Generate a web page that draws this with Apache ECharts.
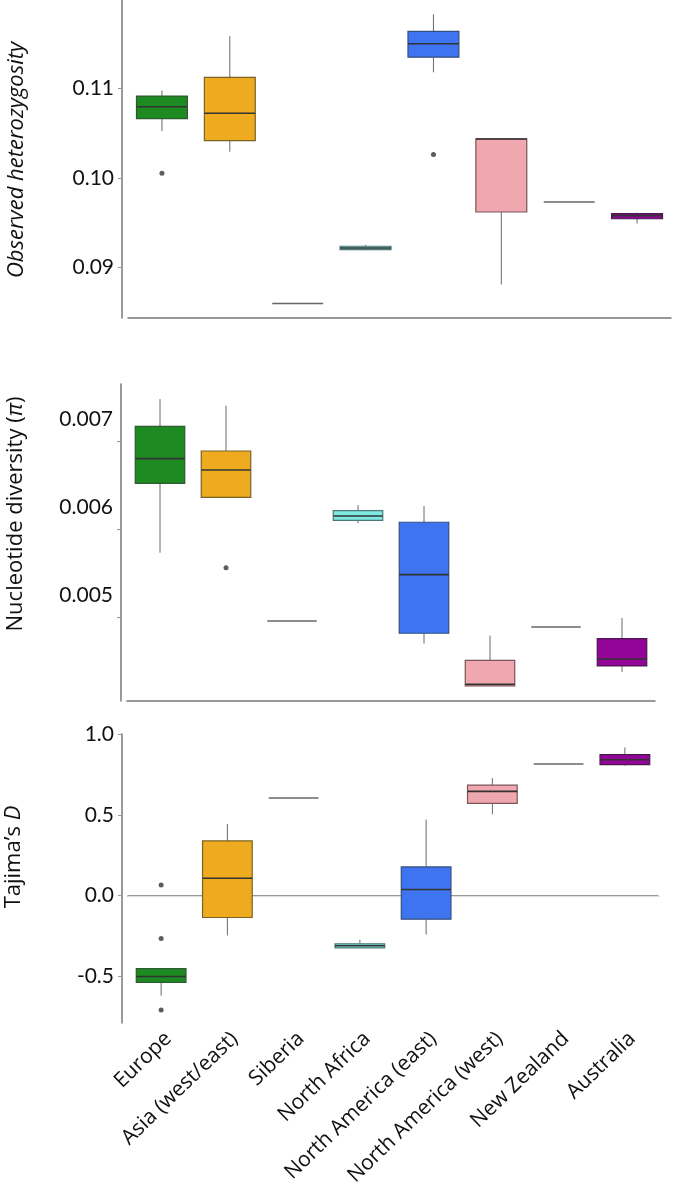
<!DOCTYPE html>
<html><head><meta charset="utf-8">
<script src="https://cdn.jsdelivr.net/npm/echarts@6/dist/echarts.min.js"></script>
<style>html,body{margin:0;padding:0;background:#fff}#c{width:677px;height:1189px}</style>
</head><body><div id="c"></div>
<script>
// ---------- DATA ----------
const categories = ['Europe','Asia (west/east)','Siberia','North Africa','North America (east)','North America (west)','New Zealand','Australia'];
// [min, Q1, median, Q3, max]
const hetBoxes = [
  [0.10519,0.10660,0.10791,0.10910,0.10970],
  [0.10291,0.10414,0.10720,0.11119,0.11578],
  [0.08601,0.08601,0.08601,0.08601,0.08601],
  [0.09194,0.09201,0.09220,0.09239,0.09254],
  [0.11175,0.11343,0.11493,0.11631,0.11821],
  [0.08813,0.09620,0.10433,0.10433,0.10433],
  [0.09731,0.09731,0.09731,0.09731,0.09731],
  [0.09493,0.09545,0.09580,0.09601,0.09612]
];
const hetOutliers = [[0,0.10052],[4,0.10261]];
const hetTicks = [0.09,0.10,0.11];

const piBoxes = [
  [0.005733,0.006520,0.006800,0.007166,0.007476],
  [0.006361,0.006361,0.006671,0.006887,0.007400],
  [0.004958,0.004958,0.004958,0.004958,0.004958],
  [0.006066,0.006100,0.006150,0.006210,0.006274],
  [0.004701,0.004819,0.005484,0.006078,0.006263],
  [0.004221,0.004221,0.004240,0.004512,0.004792],
  [0.004890,0.004890,0.004890,0.004890,0.004890],
  [0.004380,0.004448,0.004527,0.004758,0.004992]
];
const piOutliers = [[1,0.005563]];
const piTicks = [0.005,0.006,0.007];

const tajBoxes = [
  [-0.620,-0.538,-0.501,-0.453,-0.453],
  [-0.247,-0.136,0.107,0.338,0.443],
  [0.604,0.604,0.604,0.604,0.604],
  [-0.324,-0.324,-0.311,-0.299,-0.274],
  [-0.241,-0.146,0.037,0.177,0.470],
  [0.503,0.571,0.645,0.684,0.727],
  [0.814,0.814,0.814,0.814,0.814],
  [0.804,0.810,0.841,0.872,0.917]
];
const tajOutliers = [[0,0.066],[0,-0.266],[0,-0.709]];
const tajTicks = [-0.5,0.0,0.5,1.0];
const tajRefLine = [0];

// ---------- STYLE ----------
const fills = ['#1e8a22','#eeab1f','transparent','#7ee8e3','#3f74f0','#f0a8b0','transparent','#920598'];
const strokes = ['#2f5a2f','#7a6226','#666666','#4d7a78','#34507f','#7a5559','#666666','#4a1a4d'];
const SANS = "'Open Sans','Noto Sans',sans-serif";

const chart = echarts.init(document.getElementById('c'), null, {renderer:'canvas'});

function boxSeries(boxes, axisIdx) {
  return {
    type: 'custom',
    xAxisIndex: axisIdx, yAxisIndex: axisIdx,
    z: 3,
    data: boxes.map((b,i)=>[i].concat(b)),
    encode: {x: 0, y: [1,2,3,4,5]},
    renderItem: function(params, api) {
      const i = api.value(0);
      const band = api.size([1,0])[0];
      const w = band*0.75;
      const pMin = api.coord([i, api.value(1)]);
      const pQ1 = api.coord([i, api.value(2)]);
      const pMed = api.coord([i, api.value(3)]);
      const pQ3 = api.coord([i, api.value(4)]);
      const pMax = api.coord([i, api.value(5)]);
      const cx = pMed[0];
      const children = [];
      children.push({type:'line', shape:{x1:cx,y1:pMax[1],x2:cx,y2:pQ3[1]}, style:{stroke:'#6a6a6a',lineWidth:1}});
      children.push({type:'line', shape:{x1:cx,y1:pQ1[1],x2:cx,y2:pMin[1]}, style:{stroke:'#6a6a6a',lineWidth:1}});
      const flat = Math.abs(pQ1[1]-pQ3[1]) < 0.5;
      if (flat) {
        children.push({type:'line', shape:{x1:cx-w/2,y1:pMed[1],x2:cx+w/2,y2:pMed[1]}, style:{stroke:strokes[i],lineWidth:1.6}});
      } else {
        children.push({type:'rect', shape:{x:cx-w/2,y:pQ3[1],width:w,height:pQ1[1]-pQ3[1]}, style:{fill:fills[i],stroke:strokes[i],lineWidth:1.2}});
        children.push({type:'line', shape:{x1:cx-w/2,y1:pMed[1],x2:cx+w/2,y2:pMed[1]}, style:{stroke:'#333333',lineWidth:1.6}});
      }
      return {type:'group', children: children};
    }
  };
}
function refLineSeries(vals, axisIdx) {
  return {
    type: 'custom', xAxisIndex: axisIdx, yAxisIndex: axisIdx, z: 1, silent: true,
    data: vals.map(v=>[0, v]),
    encode: {y: 1},
    renderItem: function(params, api) {
      const p = api.coord([0, api.value(1)]);
      const y = Math.round(p[1]) + 0.5;
      return {type:'line', shape:{x1:params.coordSys.x, y1:y, x2:params.coordSys.x+params.coordSys.width, y2:y}, style:{stroke:'#dedede', lineWidth:1}};
    }
  };
}
function outlierSeries(pts, axisIdx) {
  return {
    type:'scatter', xAxisIndex:axisIdx, yAxisIndex:axisIdx, z:4,
    symbolSize:5, itemStyle:{color:'#333'}, data: pts
  };
}
function xAx(gi, showLabels) {
  return {
    type:'category', gridIndex:gi, data:categories, boundaryGap:true,
    axisLine:{lineStyle:{color:'#777',width:1.5}},
    axisTick:{alignWithLabel:true, length:5, lineStyle:{color:'#999'}},
    axisLabel: showLabels ? {rotate:44, margin:5, verticalAlign:'top', fontFamily:SANS, fontSize:21, color:'#111', interval:0} : {show:false},
    splitLine:{show:false}
  };
}
function yAx(gi, min, max, ticks, digits, labelExtra) {
  return {
    type:'value', gridIndex:gi, min:min, max:max, offset:6,
    axisLine:{show:true, lineStyle:{color:'#777',width:1.5}},
    axisTick:{show:true, length:4, lineStyle:{color:'#999'}, customValues:ticks},
    axisLabel:Object.assign({customValues:ticks, formatter:v=>v.toFixed(digits), fontFamily:'Lato', fontSize:21, color:'#111', margin:8}, labelExtra||{}),
    splitLine:{show:false}
  };
}

const titleFont = {fontFamily:SANS, fontSize:22, fill:'#111'};
const italicRich = {i:{fontStyle:'italic', fontFamily:SANS, fontSize:22, fill:'#111'}};
chart.setOption({
  animation:false,
  backgroundColor:'#fff',
  grid:[
    {left:128, top:0, width:543, height:318},
    {left:127, top:384, width:528, height:317},
    {left:128, top:734, width:530, height:289}
  ],
  xAxis:[xAx(0,false), xAx(1,false), xAx(2,true)],
  yAxis:[
    yAx(0, 0.0844, 0.1198, hetTicks, 2),
    yAx(1, 0.00405, 0.007647, piTicks, 3, {formatter:v=>v.toFixed(3)+'\n ', lineHeight:44}),
    yAx(2, -0.789, 1.0, tajTicks, 1)
  ],
  series:[
    boxSeries(hetBoxes,0), outlierSeries(hetOutliers,0),
    boxSeries(piBoxes,1), outlierSeries(piOutliers,1),
    refLineSeries(tajRefLine,2),
    boxSeries(tajBoxes,2), outlierSeries(tajOutliers,2)
  ],
  graphic:[
    {type:'text', x:17, y:160, rotation:Math.PI/2, style:Object.assign({text:'Observed heterozygosity', fontStyle:'italic', align:'center', verticalAlign:'middle'}, titleFont)},
    {type:'text', x:16, y:514, rotation:Math.PI/2, style:Object.assign({text:'Nucleotide diversity ({i|π})', align:'center', verticalAlign:'middle', rich:italicRich}, titleFont)},
    {type:'text', x:14, y:857, rotation:Math.PI/2, style:Object.assign({text:'Tajima’s {i|D}', align:'center', verticalAlign:'middle', rich:italicRich}, titleFont)}
  ]
});
</script></body></html>
